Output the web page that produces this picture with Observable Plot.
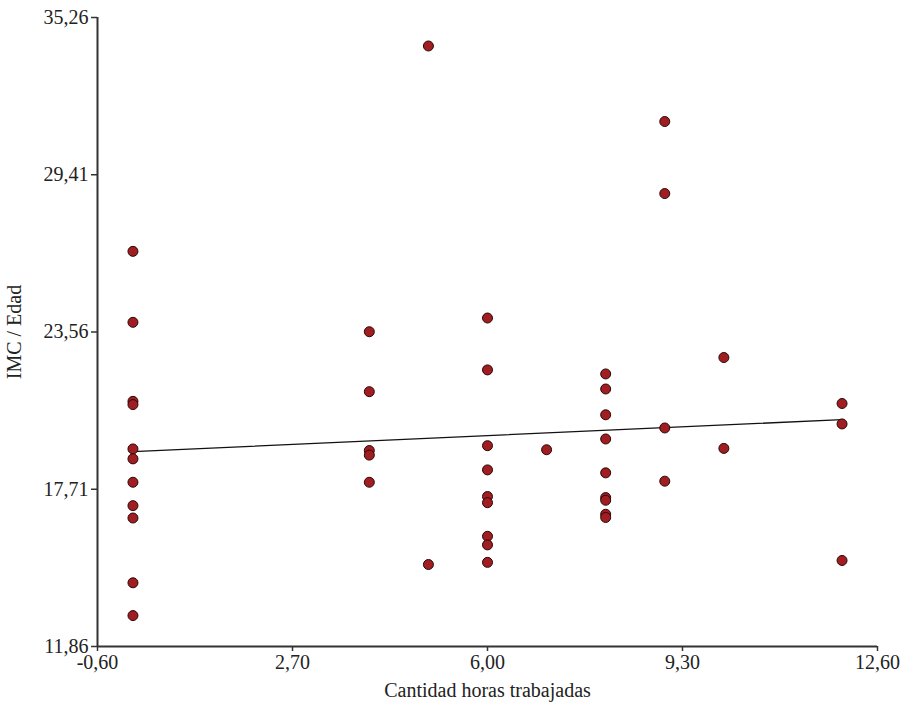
<!DOCTYPE html>
<html>
<head>
<meta charset="utf-8">
<script src="https://cdn.jsdelivr.net/npm/d3@7"></script>
<script src="https://cdn.jsdelivr.net/npm/@observablehq/plot@0.6"></script>
<style>
  html, body { margin: 0; padding: 0; background: #fff; }
</style>
</head>
<body>
<div id="chart"></div>
<script>
// Hours worked (x) and BMI/Age (y)
const horas = [
  0,0,0,0,0,0,0,0,0,0,0,
  4,4,4,4,4,
  5,5,
  6,6,6,6,6,6,6,6,6,
  7,
  8,8,8,8,8,8,8,8,8,
  9,9,9,9,
  10,10,
  12,12,12
];
const imcEdad = [
  26.56,23.92,20.98,20.86,19.21,18.84,17.97,17.10,16.64,14.23,13.01,
  23.57,21.34,19.15,18.98,17.97,
  34.20,14.91,
  24.08,22.15,19.33,18.43,17.44,17.21,15.96,15.64,14.99,
  19.18,
  22.00,21.44,20.48,19.58,18.32,17.40,17.30,16.78,16.66,
  31.39,28.71,19.99,18.01,
  22.61,19.23,
  20.90,20.14,15.06
];
// Fitted trend line, endpoints
const trendX = [0, 12];
const trendY = [19.11, 20.30];
const xTicks = [-0.60, 2.70, 6.00, 9.30, 12.60];
const yTicks = [11.86, 17.71, 23.56, 29.41, 35.26];
const xLabel = "Cantidad horas trabajadas";
const yLabel = "IMC / Edad";

const data = horas.map((h, i) => ({x: h, y: imcEdad[i]}));
const trend = trendX.map((h, i) => ({x: h, y: trendY[i]}));
const fmt = v => d3.format(".2f")(v).replace(".", ",").replace("\u2212", "-");

const chart = Plot.plot({
  width: 901,
  height: 708,
  marginLeft: 97,
  marginRight: 24,
  marginTop: 17,
  marginBottom: 62,
  style: {fontFamily: "'Liberation Serif', 'Times New Roman', serif", fontSize: "20px", color: "#222", background: "#fff"},
  x: {domain: [xTicks[0], xTicks[xTicks.length - 1]]},
  y: {domain: [yTicks[0], yTicks[yTicks.length - 1]]},
  marks: [
    Plot.axisX({ticks: xTicks, tickFormat: fmt, tickSize: 5, tickPadding: 3, stroke: "#333", strokeWidth: 1.5,
      label: xLabel, labelAnchor: "center", labelArrow: "none", labelOffset: 50}),
    Plot.axisY({ticks: yTicks, tickFormat: fmt, tickSize: 6, tickPadding: 3, stroke: "#333", strokeWidth: 1.5,
      label: yLabel, labelAnchor: "center", labelArrow: "none", labelOffset: 91}),
    Plot.ruleX([xTicks[0]], {stroke: "#333", strokeWidth: 2}),
    Plot.ruleY([yTicks[0]], {stroke: "#333", strokeWidth: 2}),
    Plot.line(trend, {x: "x", y: "y", stroke: "#111", strokeWidth: 1.3}),
    Plot.dot(data, {x: "x", y: "y", r: 5, fill: "#a01d22", stroke: "#2a0808", strokeWidth: 1})
  ]
});
document.getElementById("chart").append(chart);
</script>
</body>
</html>
